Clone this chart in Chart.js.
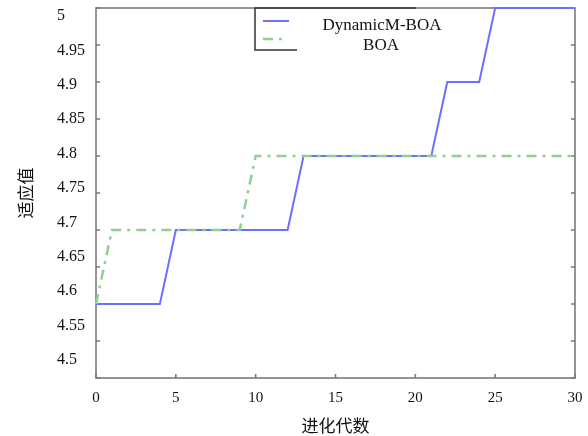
<!DOCTYPE html>
<html lang="zh">
<head>
  <meta charset="UTF-8">
  <title>适应值</title>
  <script src="https://cdn.jsdelivr.net/npm/chart.js"></script>
  <style>
    body { margin: 0; background: #fff; }
    canvas { display: block; }
  </style>
</head>
<body>
  <canvas id="chart" width="588" height="436"></canvas>

  <script>
    // generations 0..30
    const generations = [0, 1, 2, 3, 4, 5, 6, 7, 8, 9, 10, 11, 12, 13, 14, 15,
                         16, 17, 18, 19, 20, 21, 22, 23, 24, 25, 26, 27, 28, 29, 30];
    const dynamicMBOA = [4.6, 4.6, 4.6, 4.6, 4.6,
                         4.7, 4.7, 4.7, 4.7, 4.7, 4.7, 4.7, 4.7,
                         4.8, 4.8, 4.8, 4.8, 4.8, 4.8, 4.8, 4.8, 4.8,
                         4.9, 4.9, 4.9,
                         5.0, 5.0, 5.0, 5.0, 5.0, 5.0];
    const boa = [4.6,
                 4.7, 4.7, 4.7, 4.7, 4.7, 4.7, 4.7, 4.7, 4.7,
                 4.8, 4.8, 4.8, 4.8, 4.8, 4.8, 4.8, 4.8, 4.8, 4.8, 4.8,
                 4.8, 4.8, 4.8, 4.8, 4.8, 4.8, 4.8, 4.8, 4.8, 4.8];
    const seriesNames = ['DynamicM-BOA', 'BOA'];

    const xTicks = [0, 5, 10, 15, 20, 25, 30];
    const yTicks = [4.5, 4.55, 4.6, 4.65, 4.7, 4.75, 4.8, 4.85, 4.9, 4.95, 5];
    const yLabels = ['4.5', '4.55', '4.6', '4.65', '4.7', '4.75', '4.8', '4.85', '4.9', '4.95', '5'];

    const serif = '"Liberation Serif", "Times New Roman", serif';
    const cjk = '"Noto Sans CJK SC", "Noto Sans", sans-serif';

    // box around the plot with small inward ticks (drawn before the lines)
    const framePlugin = {
      id: 'frame',
      beforeDatasetsDraw(chart) {
        const { ctx, chartArea: a, scales } = chart;
        ctx.save();
        ctx.strokeStyle = '#7a7a7a';
        ctx.lineWidth = 1.6;
        ctx.strokeRect(a.left, a.top, a.right - a.left, a.bottom - a.top);
        ctx.beginPath();
        for (const v of yTicks) {
          const y = scales.y.getPixelForValue(v);
          ctx.moveTo(a.left, y); ctx.lineTo(a.left + 4, y);
          ctx.moveTo(a.right, y); ctx.lineTo(a.right - 4, y);
        }
        for (const v of xTicks) {
          const x = scales.x.getPixelForValue(v);
          ctx.moveTo(x, a.bottom); ctx.lineTo(x, a.bottom - 4);
        }
        ctx.stroke();
        ctx.restore();
      }
    };

    // legend in the upper middle, partly covered by its text box like in the original
    const legendPlugin = {
      id: 'boxLegend',
      afterDraw(chart) {
        const { ctx, chartArea: a } = chart;
        const ds = chart.data.datasets;
        const left = 255, top = a.top, bottom = 50;
        ctx.save();
        ctx.strokeStyle = '#333';
        ctx.lineWidth = 1.5;
        ctx.beginPath();
        ctx.moveTo(297, bottom); ctx.lineTo(left, bottom);
        ctx.lineTo(left, top); ctx.lineTo(416, top);
        ctx.stroke();

        const rows = [21, 39];
        ds.forEach((d, i) => {
          ctx.strokeStyle = d.borderColor;
          ctx.lineWidth = d.borderWidth;
          ctx.setLineDash(d.borderDash || []);
          ctx.beginPath();
          ctx.moveTo(263, rows[i]);
          ctx.lineTo(i === 0 ? 289 : 283, rows[i]);
          ctx.stroke();
        });
        ctx.setLineDash([]);

        ctx.fillStyle = '#111';
        ctx.font = '17px ' + serif;
        ctx.textAlign = 'center';
        ctx.textBaseline = 'middle';
        ctx.fillText(seriesNames[0], 382, 26);
        ctx.fillText(seriesNames[1], 381, 46);
        ctx.restore();
      }
    };

    new Chart(document.getElementById('chart').getContext('2d'), {
      type: 'line',
      data: {
        datasets: [
          {
            label: seriesNames[0],
            data: generations.map((g, i) => ({ x: g, y: dynamicMBOA[i] })),
            yAxisID: 'y',
            order: 1,   // under the dash-dot line where they overlap
            borderColor: '#6f6fff',
            borderWidth: 2,
            pointRadius: 0,
            fill: false,
            clip: false
          },
          {
            label: seriesNames[1],
            data: generations.map((g, i) => ({ x: g, y: boa[i] })),
            yAxisID: 'y',
            order: 0,
            borderColor: '#8fcf8f',
            borderWidth: 2.5,
            borderDash: [10, 6, 3, 6],
            pointRadius: 0,
            fill: false,
            clip: false
          }
        ]
      },
      options: {
        responsive: false,
        animation: false,
        layout: { padding: { left: 0, right: 13, top: 8, bottom: 0 } },
        plugins: { legend: { display: false }, tooltip: { enabled: false } },
        scales: {
          x: {
            type: 'linear',
            min: 0,
            max: 30,
            afterBuildTicks: s => { s.ticks = xTicks.map(v => ({ value: v })); },
            afterFit: s => { s.height = 58; s.paddingLeft = 0; s.paddingRight = 0; },
            grid: { display: false, drawTicks: false },
            border: { display: false },
            ticks: { font: { family: serif, size: 15 }, color: '#111', padding: 11, maxRotation: 0 },
            title: {
              display: true, text: '进化代数', color: '#111',
              font: { family: cjk, size: 17 }, padding: { top: 1, bottom: 0 }
            }
          },
          // labels of the y axis sit a little off their ticks in the original
          yl: {
            position: 'left',
            min: 4.47384,
            max: 5.01163,
            afterBuildTicks: s => { s.ticks = yTicks.map(v => ({ value: v })); },
            afterFit: s => { s.width = 39; s.paddingTop = 0; s.paddingBottom = 0; },
            grid: { display: false, drawTicks: false },
            border: { display: false },
            ticks: {
              crossAlign: 'far',
              font: { family: serif, size: 16 },
              color: '#111',
              callback: (v, i) => yLabels[i]
            }
          },
          y: {
            position: 'left',
            min: 4.5,
            max: 5,
            afterFit: s => { s.width = 57; s.paddingTop = 0; s.paddingBottom = 0; },
            grid: { display: false, drawTicks: false },
            border: { display: false },
            ticks: { display: false },
            title: {
              display: true, text: '适应值', color: '#111',
              font: { family: cjk, size: 17 }, padding: { top: 15, bottom: 0 }
            }
          }
        }
      },
      plugins: [framePlugin, legendPlugin]
    });
  </script>
</body>
</html>
